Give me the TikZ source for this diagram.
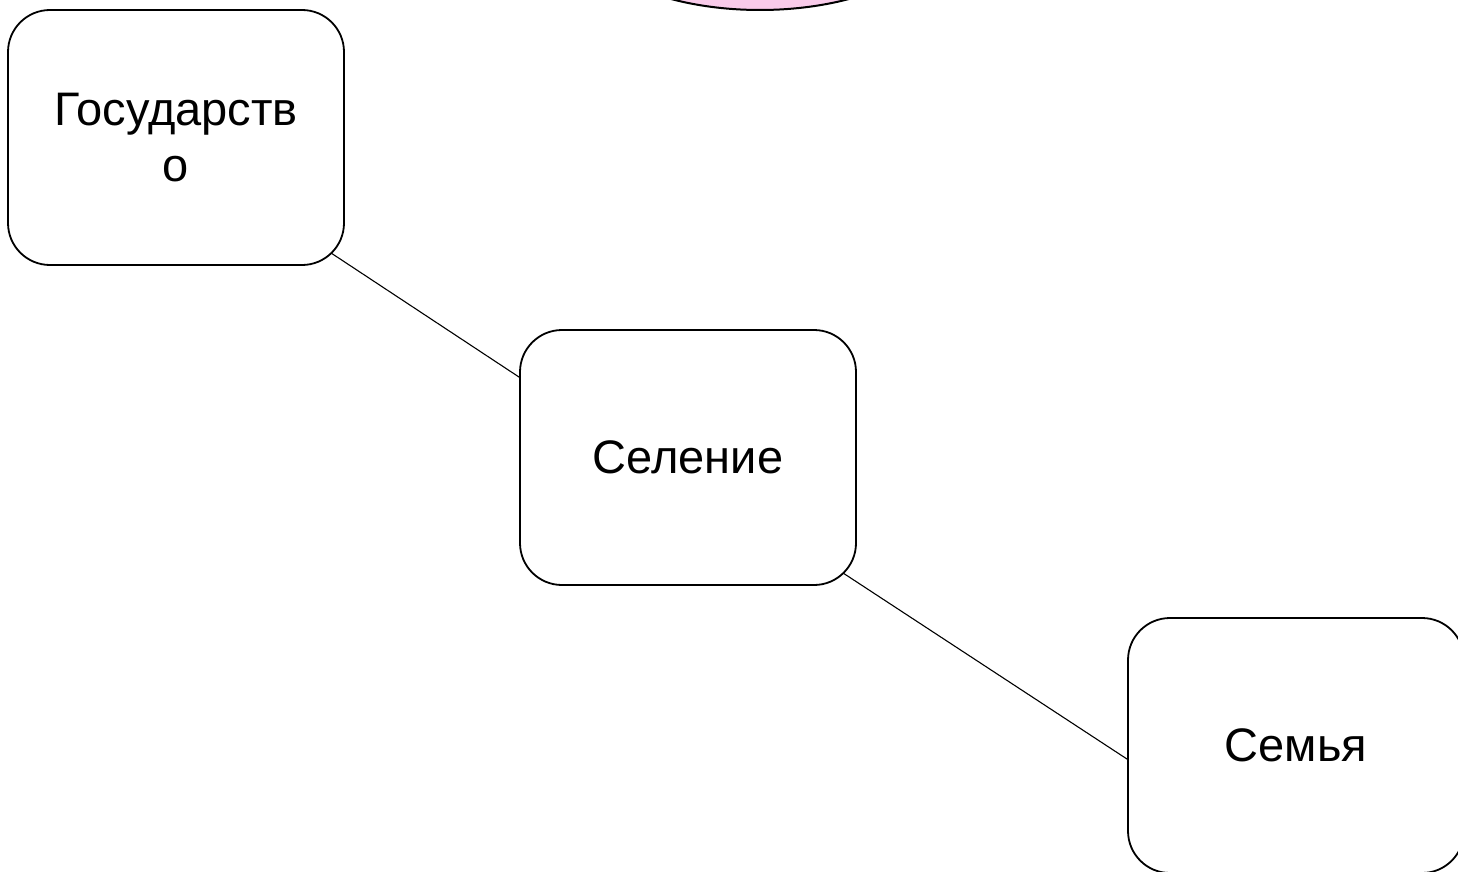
\documentclass[tikz,border=0pt]{standalone}
\usepackage{fontspec}
\setmainfont{Liberation Sans}
\usetikzlibrary{calc,shapes.geometric}
\definecolor{pinkfill}{HTML}{F9CBEA}
\begin{document}
\begin{tikzpicture}[x=1pt,y=-1pt,
  box/.style={draw, line width=1.8pt, rounded corners=42pt, minimum width=336pt, minimum height=255pt, inner sep=0pt, align=center, font=\fontsize{47}{56}\selectfont},
  link/.style={draw, line width=1.1pt}]
\useasboundingbox (0,0) rectangle (1458,872);
\clip (0,0) rectangle (1458,872);
\node[ellipse, draw, fill=pinkfill, line width=2pt, minimum width=390pt, minimum height=200pt] (top) at (760,-90) {};
\node[box] (gos) at (176,137.5) {Государств\\о};
\node[box] (sel) at (688,457.5) {Селение};
\node[box] (sem) at (1296,745.5) {Семья};
\draw[link] ($(gos.south east)+(-14,-13)$) -- ($(sel.north west)+(0,48)$);
\draw[link] ($(sel.south east)+(-14,-13)$) -- ($(sem.north west)+(0,142)$);
\end{tikzpicture}
\end{document}
